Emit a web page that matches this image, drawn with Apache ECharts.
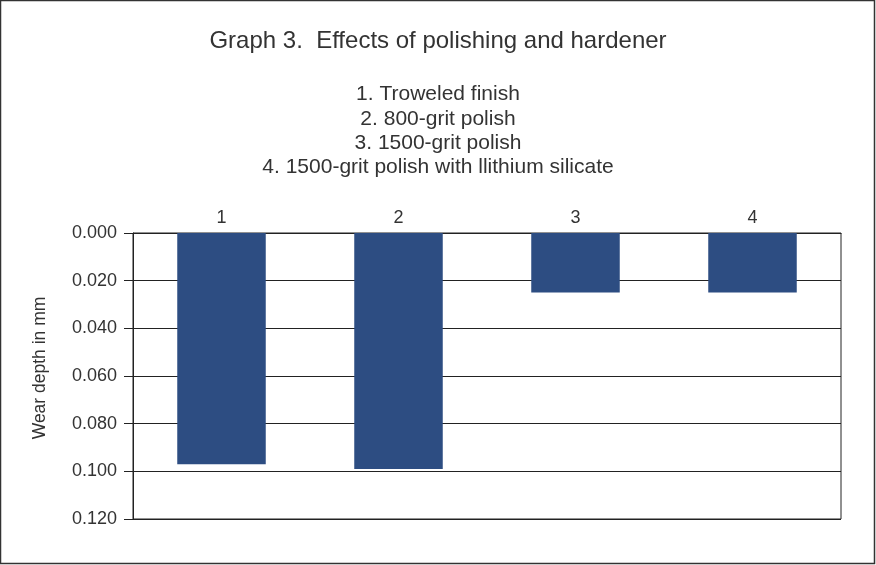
<!DOCTYPE html>
<html><head><meta charset="utf-8">
<script src="https://cdn.jsdelivr.net/npm/echarts@6/dist/echarts.min.js"></script>
<style>html,body{margin:0;padding:0;background:#fff}#c{width:876px;height:565px}</style>
</head><body><div id="c"></div>
<script>
const categories = ['1', '2', '3', '4'];
const wearDepth = [0.097, 0.099, 0.025, 0.025];
const titleText = 'Graph 3.  Effects of polishing and hardener';
const subtitleLines = ['1. Troweled finish', '2. 800-grit polish', '3. 1500-grit polish', '4. 1500-grit polish with llithium silicate'];
const yAxisName = 'Wear depth in mm';

const chart = echarts.init(document.getElementById('c'));
const font = '"Liberation Sans", Arial, sans-serif';
chart.setOption({
  animation: false,
  backgroundColor: '#fff',
  graphic: [{ type: 'rect', shape: { x: 0.5, y: 0.5, width: 874, height: 563 }, style: { fill: 'none', stroke: '#333', lineWidth: 1.5 }, silent: true }],
  title: [{
    text: titleText, left: 438, top: 29, textAlign: 'center', padding: 0,
    textStyle: { fontFamily: font, fontSize: 24, fontWeight: 'normal', color: '#333', lineHeight: 24 }
  }, {
    text: subtitleLines.join('\n'), left: 438, top: 82.5, textAlign: 'center', padding: 0,
    textStyle: { fontFamily: font, fontSize: 21, fontWeight: 'normal', color: '#333', lineHeight: 24.2 }
  }],
  grid: { left: 133, right: 35, top: 233, bottom: 46, show: true, borderColor: '#222', borderWidth: 1 },
  xAxis: {
    type: 'category', data: categories, position: 'top',
    axisLine: { show: true, lineStyle: { color: '#222', width: 1 } },
    axisTick: { show: false },
    axisLabel: { fontFamily: font, fontSize: 18, color: '#333', margin: 6 }
  },
  yAxis: {
    type: 'value', inverse: true, min: 0, max: 0.12, interval: 0.02,
    name: yAxisName, nameLocation: 'middle', nameGap: 84,
    nameTextStyle: { fontFamily: font, fontSize: 17.5, color: '#333', padding: [0, 0, 0, 16] },
    axisLine: { show: true, lineStyle: { color: '#222', width: 1 } },
    axisTick: { show: true, length: 9, lineStyle: { color: '#222' } },
    splitLine: { show: true, lineStyle: { color: '#222', width: 1 } },
    axisLabel: { fontFamily: font, fontSize: 18, color: '#333', margin: 16, formatter: v => v.toFixed(3) }
  },
  series: [{
    type: 'bar', data: wearDepth, barWidth: '50%',
    itemStyle: { color: '#2D4D82' }
  }]
});
</script></body></html>
